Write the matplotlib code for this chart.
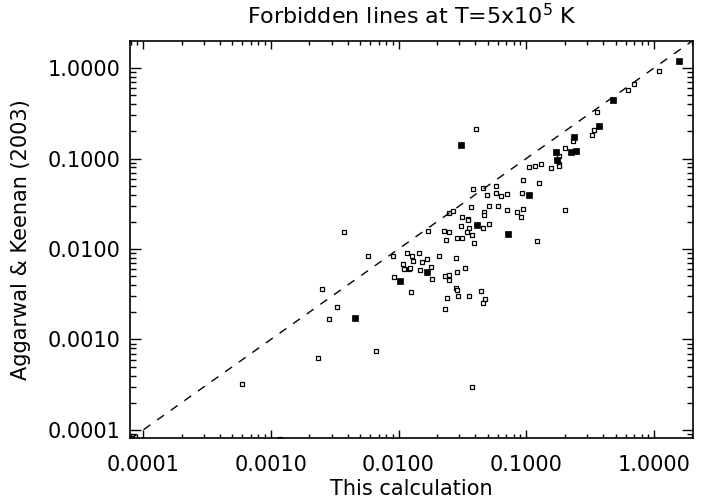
import matplotlib
matplotlib.use("Agg")
import matplotlib.pyplot as plt
from matplotlib.ticker import LogLocator, FormatStrFormatter, NullFormatter

# lineas prohibidas: nuestro calculo (x) vs Aggarwal & Keenan 2003 (y)
x_open = [1.10, 0.691, 0.624, 0.361, 0.342, 0.327, 0.0402, 0.2314, 0.2028, 0.1805,
          0.182, 0.181, 0.1562, 0.1298, 0.1181, 0.1056, 0.0943, 0.1258, 0.0577, 0.0461,
          0.0385, 0.0583, 0.0493, 0.0631, 0.0703, 0.0921, 0.0367, 0.0513, 0.0601, 0.0703,
          0.0848, 0.0938, 0.0913, 0.2021, 0.0247, 0.0269, 0.0465, 0.0465, 0.0315, 0.0350,
          0.0352, 0.0307, 0.0354, 0.0459, 0.0511, 0.1221, 0.0171, 0.0228, 0.0247, 0.0234,
          0.0289, 0.0316, 0.0346, 0.0378, 0.0392, 0.00911, 0.01172, 0.01282, 0.01434, 0.01305,
          0.01075, 0.01514, 0.01666, 0.02064, 0.02834, 0.01786, 0.01104, 0.01202, 0.01235, 0.01466,
          0.0332, 0.0287, 0.00917, 0.01829, 0.02299, 0.0247, 0.02498, 0.01253, 0.02803, 0.0287,
          0.0442, 0.0291, 0.0354, 0.02384, 0.0475, 0.0461, 0.02324, 0.0374, 0.00582, 0.00376,
          0.00252, 0.00332, 0.00287, 0.00667, 0.002335, 0.000598, 0.00118, 8.2e-5]
y_open = [0.934, 0.666, 0.571, 0.329, 0.205, 0.183, 0.2135, 0.157, 0.1316, 0.1066,
          0.0869, 0.0837, 0.0781, 0.0876, 0.0826, 0.0801, 0.0586, 0.0533, 0.0497, 0.0472,
          0.0457, 0.0414, 0.0392, 0.0387, 0.0405, 0.0411, 0.0293, 0.0300, 0.0300, 0.0268,
          0.0258, 0.0280, 0.0227, 0.0270, 0.0252, 0.0265, 0.0256, 0.0236, 0.0223, 0.0213,
          0.0207, 0.01814, 0.0172, 0.01724, 0.01875, 0.01226, 0.0158, 0.01593, 0.01553, 0.01257,
          0.01333, 0.01323, 0.01533, 0.01435, 0.01174, 0.00843, 0.0091, 0.00837, 0.00901, 0.00743,
          0.00688, 0.00716, 0.00781, 0.00843, 0.00805, 0.00637, 0.00601, 0.00600, 0.00621, 0.00591,
          0.00621, 0.00561, 0.00490, 0.00466, 0.00503, 0.00519, 0.00453, 0.00338, 0.00374, 0.0035,
          0.00346, 0.00306, 0.00303, 0.00288, 0.00282, 0.00255, 0.00217, 0.000301, 0.00843, 0.0153,
          0.00364, 0.0023, 0.0017, 0.000752, 0.000625, 0.000325, 7.85e-5, 8.2e-5]

x_fill = [1.58, 0.480, 0.373, 0.238, 0.172, 0.224, 0.244, 0.175, 0.0311, 0.1042,
          0.0414, 0.0724, 0.0168, 0.01033, 0.00459]
y_fill = [1.19, 0.443, 0.227, 0.1715, 0.117, 0.117, 0.121, 0.0962, 0.140, 0.0395,
          0.01828, 0.01454, 0.00553, 0.00440, 0.001715]

xlims = [7.9e-5, 2.02]
ylims = [8.16e-5, 1.99]

plt.rcParams['font.family'] = 'DejaVu Sans'

fig = plt.figure(figsize=(7.11, 5.04), dpi=100)
ax = fig.add_axes([0.1828, 0.131, 0.7919, 0.7877])

ax.plot(x_open, y_open, 's', ms=3.4, mfc='white', mec='black', mew=0.9, ls='none')
ax.plot(x_fill, y_fill, 's', ms=4.8, mfc='black', mec='black', mew=0.5, ls='none')
ax.plot(xlims, xlims, ls=(0, (6, 6)), color='black', lw=1.0)

ax.set_xscale('log')
ax.set_yscale('log')
ax.set_xlim(xlims)
ax.set_ylim(ylims)

for axis in (ax.xaxis, ax.yaxis):
    axis.set_major_locator(LogLocator(base=10, numticks=10))
    axis.set_minor_locator(LogLocator(base=10, subs=range(2, 10), numticks=20))
    axis.set_major_formatter(FormatStrFormatter('%.4f'))
    axis.set_minor_formatter(NullFormatter())

ax.tick_params(axis='both', which='both', direction='in', top=True, right=True,
               width=1.0, labelsize=15)
ax.tick_params(axis='x', which='major', length=6, pad=12)
ax.tick_params(axis='x', which='minor', length=3)
ax.tick_params(axis='y', which='major', length=8, pad=7)
ax.tick_params(axis='y', which='minor', length=4)
for s in ax.spines.values():
    s.set_linewidth(1.2)

ax.set_title('Forbidden lines at T=5x10$^5$ K', fontsize=16, pad=12)
ax.set_xlabel('This calculation', fontsize=15, labelpad=3)
ax.set_ylabel('Aggarwal & Keenan (2003)', fontsize=15, labelpad=12)

plt.savefig('out.png', dpi=100)
